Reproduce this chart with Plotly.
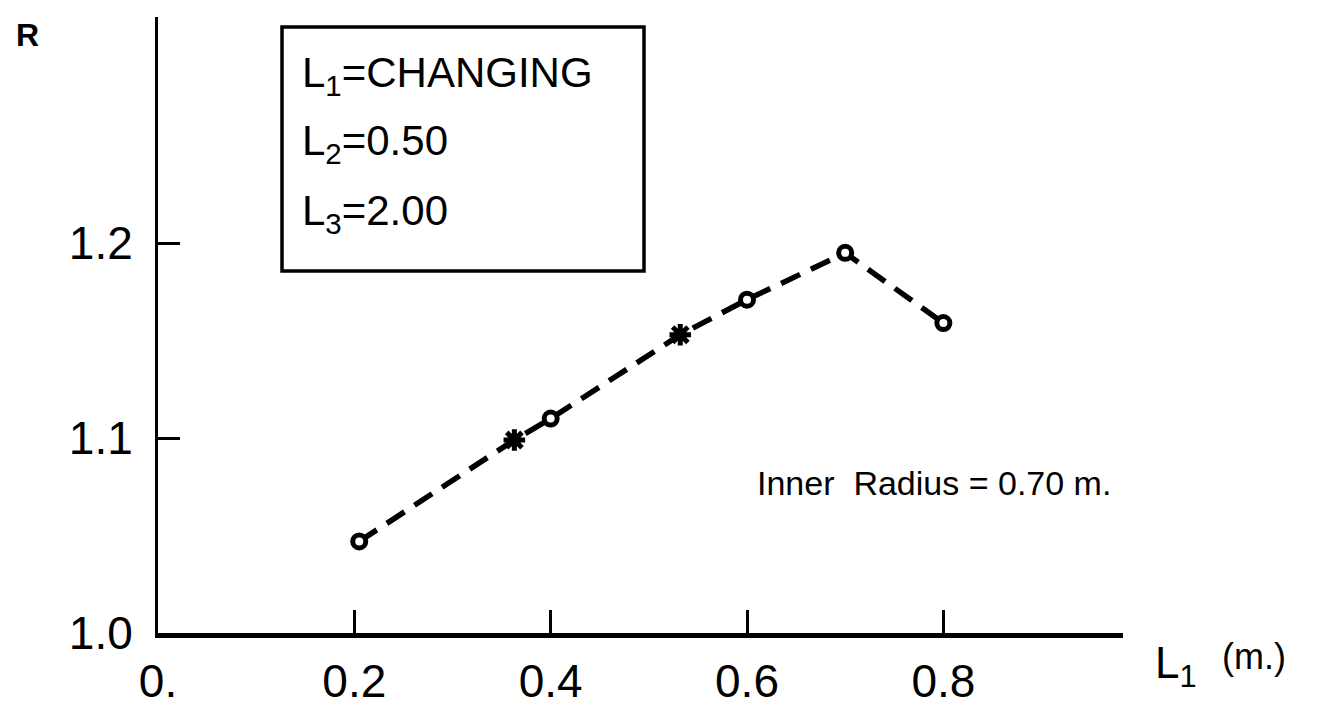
import plotly.graph_objects as go

# ---- data ----
L1_values = [0.205, 0.363, 0.40, 0.532, 0.60, 0.70, 0.80]
R_values = [1.047, 1.099, 1.110, 1.153, 1.171, 1.195, 1.159]
point_kinds = ["circle", "star", "circle", "star", "circle", "circle", "circle"]

x_tick_vals = [0.0, 0.2, 0.4, 0.6, 0.8]
x_tick_text = ["0.", "0.2", "0.4", "0.6", "0.8"]
y_tick_vals = [1.0, 1.1, 1.2]
y_tick_text = ["1.0", "1.1", "1.2"]

box_lines = ["L<sub>1</sub>=CHANGING", "L<sub>2</sub>=0.50", "L<sub>3</sub>=2.00"]
note_text = "Inner  Radius = 0.70 m."

# ---- layout geometry ----
# The page body has an 8 px margin, so the figure is drawn 8 px in from the
# window corner; screen positions below are converted to figure positions.
OFF = 8
W, H = 1321 - OFF, 707 - OFF
L = 158 - OFF
T = 17 - OFF
R = W - (1123 - OFF)
B = H - (633 - OFF)
PW, PH = W - L - R, H - T - B


def px(xs):
    return (xs - OFF - L) / PW


def py(ys):
    return (H - B - (ys - OFF)) / PH


FONT = "Liberation Sans"
symbol_map = {"circle": "circle", "star": "asterisk-open"}

fig = go.Figure()
fig.add_trace(go.Scatter(
    x=L1_values, y=R_values,
    mode="lines+markers",
    line=dict(color="black", width=5.5, dash="21px,12px"),
    marker=dict(
        symbol=[symbol_map[k] for k in point_kinds],
        size=[13 if k == "circle" else 18 for k in point_kinds],
        color=["white" if k == "circle" else "black" for k in point_kinds],
        line=dict(color="black", width=5),
        opacity=1,
    ),
    cliponaxis=False,
    showlegend=False,
))

fig.update_layout(
    width=W, height=H,
    margin=dict(l=L, r=R, t=T, b=B, pad=0, autoexpand=False),
    paper_bgcolor="white", plot_bgcolor="white",
    font=dict(family=FONT, color="black", size=46),
    xaxis=dict(
        range=[0, 0.983], showgrid=False, zeroline=False, automargin=False,
        showline=True, linecolor="black", linewidth=5,
        ticks="inside", ticklen=23, tickwidth=3, tickcolor="black",
        tickvals=x_tick_vals, ticktext=x_tick_text,
        tickfont=dict(family=FONT, size=46),
        ticklabelstandoff=4,
    ),
    yaxis=dict(
        range=[1.0, 1.316], showgrid=False, zeroline=False, automargin=False,
        showline=True, linecolor="black", linewidth=3,
        ticks="inside", ticklen=22, tickwidth=3, tickcolor="black",
        tickvals=y_tick_vals, ticktext=y_tick_text,
        tickfont=dict(family=FONT, size=46),
        ticklabelstandoff=13,
    ),
)

# parameter box
fig.add_shape(type="rect", xref="paper", yref="paper",
              x0=px(282), x1=px(644), y0=py(271), y1=py(27),
              line=dict(color="black", width=3.5), fillcolor="white", layer="below")
for line_text, ypix in zip(box_lines, [76, 143, 213]):
    fig.add_annotation(x=px(300), y=py(ypix), xref="paper", yref="paper",
                       text=line_text, showarrow=False, xanchor="left", yanchor="middle",
                       font=dict(family=FONT, size=42))

# axis titles
fig.add_annotation(x=px(27), y=py(35), xref="paper", yref="paper", text="<b>R</b>",
                   showarrow=False, xanchor="center", yanchor="middle",
                   font=dict(family=FONT, size=32))
fig.add_annotation(x=px(1153), y=py(666), xref="paper", yref="paper", text="L<sub>1</sub>",
                   showarrow=False, xanchor="left", yanchor="middle",
                   font=dict(family=FONT, size=44))
fig.add_annotation(x=px(1220), y=py(657), xref="paper", yref="paper", text="(m.)",
                   showarrow=False, xanchor="left", yanchor="middle",
                   font=dict(family=FONT, size=36))

# note
fig.add_annotation(x=px(755), y=py(483), xref="paper", yref="paper", text=note_text,
                   showarrow=False, xanchor="left", yanchor="middle",
                   font=dict(family=FONT, size=34))

fig.write_html("out.html")
